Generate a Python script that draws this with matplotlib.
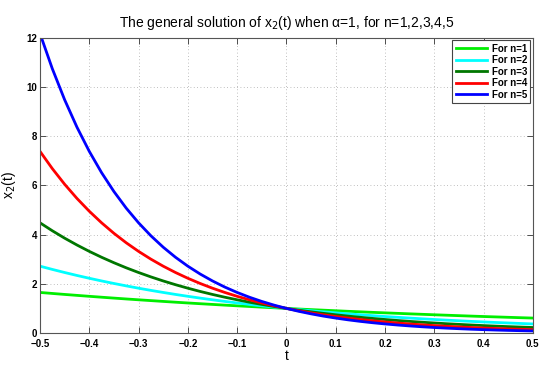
import matplotlib
matplotlib.use("Agg")
import matplotlib.pyplot as plt

plt.rcParams['font.family'] = ['Liberation Sans', 'DejaVu Sans']

t = [-0.5, -0.475, -0.45, -0.425, -0.4, -0.375, -0.35, -0.325, -0.3, -0.275,
     -0.25, -0.225, -0.2, -0.175, -0.15, -0.125, -0.1, -0.075, -0.05, -0.025,
     0.0, 0.025, 0.05, 0.075, 0.1, 0.125, 0.15, 0.175, 0.2, 0.225,
     0.25, 0.275, 0.3, 0.325, 0.35, 0.375, 0.4, 0.425, 0.45, 0.475, 0.5]

x_n1 = [1.649, 1.608, 1.568, 1.530, 1.492, 1.455, 1.419, 1.384, 1.350, 1.317,
        1.284, 1.252, 1.221, 1.191, 1.162, 1.133, 1.105, 1.078, 1.051, 1.025,
        1.000, 0.975, 0.951, 0.928, 0.905, 0.882, 0.861, 0.839, 0.819, 0.799,
        0.779, 0.760, 0.741, 0.723, 0.705, 0.687, 0.670, 0.654, 0.638, 0.622, 0.607]
x_n2 = [2.718, 2.586, 2.460, 2.340, 2.226, 2.117, 2.014, 1.916, 1.822, 1.733,
        1.649, 1.568, 1.492, 1.419, 1.350, 1.284, 1.221, 1.162, 1.105, 1.051,
        1.000, 0.951, 0.905, 0.861, 0.819, 0.779, 0.741, 0.705, 0.670, 0.638,
        0.607, 0.577, 0.549, 0.522, 0.497, 0.472, 0.449, 0.427, 0.407, 0.387, 0.368]
x_n3 = [4.482, 4.158, 3.857, 3.579, 3.320, 3.080, 2.858, 2.651, 2.460, 2.282,
        2.117, 1.964, 1.822, 1.690, 1.568, 1.455, 1.350, 1.252, 1.162, 1.078,
        1.000, 0.928, 0.861, 0.799, 0.741, 0.687, 0.638, 0.592, 0.549, 0.509,
        0.472, 0.438, 0.407, 0.377, 0.350, 0.325, 0.301, 0.279, 0.259, 0.241, 0.223]
x_n4 = [7.389, 6.686, 6.050, 5.474, 4.953, 4.482, 4.055, 3.669, 3.320, 3.004,
        2.718, 2.460, 2.226, 2.014, 1.822, 1.649, 1.492, 1.350, 1.221, 1.105,
        1.000, 0.905, 0.819, 0.741, 0.670, 0.607, 0.549, 0.497, 0.449, 0.407,
        0.368, 0.333, 0.301, 0.273, 0.247, 0.223, 0.202, 0.183, 0.165, 0.150, 0.135]
x_n5 = [12.182, 10.751, 9.488, 8.373, 7.389, 6.521, 5.755, 5.078, 4.482, 3.955,
        3.490, 3.080, 2.718, 2.399, 2.117, 1.868, 1.649, 1.455, 1.284, 1.133,
        1.000, 0.882, 0.779, 0.687, 0.607, 0.535, 0.472, 0.417, 0.368, 0.325,
        0.287, 0.253, 0.223, 0.197, 0.174, 0.153, 0.135, 0.119, 0.105, 0.093, 0.082]

series = [x_n1, x_n2, x_n3, x_n4, x_n5]
labels = ['For n=1', 'For n=2', 'For n=3', 'For n=4', 'For n=5']
colors = ['#00ee00', '#00ffff', '#007700', '#ff0000', '#0000ff']

xticks = [-0.5, -0.4, -0.3, -0.2, -0.1, 0, 0.1, 0.2, 0.3, 0.4, 0.5]
xticklabels = ['\u22120.5', '\u22120.4', '\u22120.3', '\u22120.2', '\u22120.1', '0',
               '0.1', '0.2', '0.3', '0.4', '0.5']
yticks = [0, 2, 4, 6, 8, 10, 12]

fig = plt.figure(figsize=(5.5, 3.69), dpi=100)
ax = fig.add_axes([0.0727, 0.0976, 0.896, 0.7995])

for y, lab, c in zip(series, labels, colors):
    ax.plot(t, y, color=c, lw=2, label=lab)

ax.set_xlim(-0.5, 0.5)
ax.set_ylim(0, 12)
ax.set_xticks(xticks)
ax.set_xticklabels(xticklabels)
ax.set_yticks(yticks)
ax.tick_params(direction='in', length=4, labelsize=7, width=0.6, colors='#333333',
               top=True, right=True, pad=2)
ax.tick_params(axis='x', pad=4.5)
for lbl in ax.get_xticklabels() + ax.get_yticklabels():
    lbl.set_fontweight('bold')
    lbl.set_color('black')
ax.grid(True, linestyle=(0, (1, 3)), color='#aaaaaa', lw=0.6)
for sp in ax.spines.values():
    sp.set_color('#555555')
    sp.set_linewidth(0.8)

ax.set_xlabel('t', fontsize=10, labelpad=0)
ax.set_ylabel('x$_2$(t)', fontsize=10, labelpad=6)
ax.set_title('The general solution of x$_2$(t) when \u03b1=1, for n=1,2,3,4,5',
             fontsize=10, pad=8)

leg = ax.legend(loc='upper right', prop={'weight': 'bold', 'size': 7},
                fancybox=False, framealpha=1, edgecolor='#444444',
                borderaxespad=0.25, handlelength=3.2, handletextpad=0.5,
                labelspacing=0.15, borderpad=0.35)
leg.get_frame().set_linewidth(0.8)

fig.savefig('out.png', dpi=100)
